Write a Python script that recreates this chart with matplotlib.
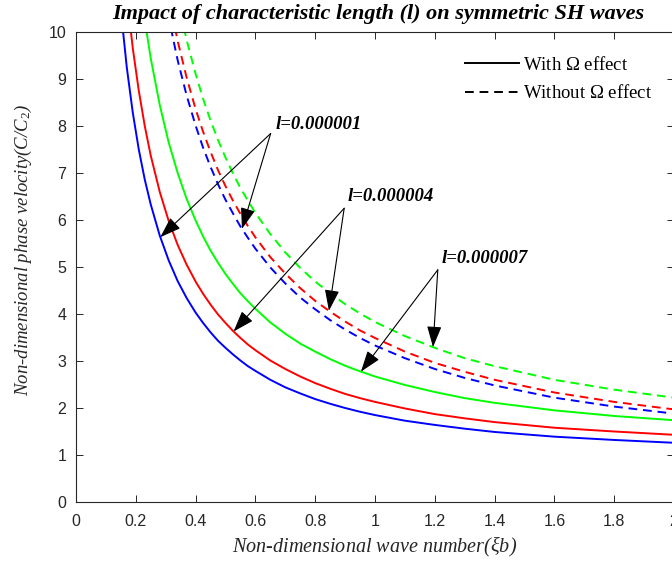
import matplotlib.pyplot as plt
import matplotlib as mpl
import numpy as np
from matplotlib.lines import Line2D

mpl.rcParams.update({
    "font.family": "sans-serif",
    "font.sans-serif": ["Liberation Sans", "DejaVu Sans"],
    "mathtext.fontset": "custom",
    "mathtext.rm": "Liberation Serif",
    "mathtext.it": "Liberation Serif:italic",
    "axes.linewidth": 0.8,
    "axes.edgecolor": "#262626",
    "xtick.color": "#262626",
    "ytick.color": "#262626",
})

# wave number grid
xi = [0.15, 0.17, 0.19, 0.21, 0.23, 0.25, 0.28, 0.31, 0.34, 0.37, 0.40, 0.425,
      0.45, 0.475, 0.50, 0.525, 0.55, 0.575, 0.60, 0.65, 0.70, 0.75, 0.80, 0.85,
      0.90, 0.95, 1.00, 1.10, 1.20, 1.30, 1.40, 1.60, 1.80, 2.00]

# with rotation (Omega) effect
c_l1_with = [10.46, 9.24, 8.28, 7.50, 6.86, 6.33, 5.67, 5.14, 4.70, 4.34, 4.03, 3.81,
             3.61, 3.43, 3.28, 3.14, 3.01, 2.89, 2.79, 2.60, 2.44, 2.31, 2.19, 2.09,
             2.00, 1.92, 1.85, 1.73, 1.64, 1.56, 1.49, 1.39, 1.32, 1.26]
c_l4_with = [12.20, 10.77, 9.65, 8.75, 8.00, 7.37, 6.60, 5.98, 5.47, 5.05, 4.69, 4.43,
             4.20, 3.99, 3.81, 3.64, 3.49, 3.35, 3.23, 3.01, 2.83, 2.67, 2.53, 2.41,
             2.30, 2.21, 2.13, 1.99, 1.87, 1.78, 1.70, 1.58, 1.50, 1.43]
c_l7_with = [15.65, 13.82, 12.38, 11.21, 10.25, 9.44, 8.45, 7.65, 7.00, 6.45, 5.99, 5.65,
             5.35, 5.09, 4.85, 4.64, 4.44, 4.27, 4.11, 3.82, 3.58, 3.37, 3.20, 3.04,
             2.90, 2.78, 2.67, 2.49, 2.34, 2.21, 2.11, 1.95, 1.83, 1.74]

# without rotation effect
c_l1_without = [21.20, 18.72, 16.76, 15.17, 13.85, 12.75, 11.39, 10.30, 9.40, 8.65, 8.01, 7.54,
                7.13, 6.76, 6.43, 6.14, 5.86, 5.62, 5.39, 4.99, 4.65, 4.35, 4.10, 3.87,
                3.67, 3.49, 3.33, 3.06, 2.83, 2.64, 2.48, 2.22, 2.03, 1.88]
c_l4_without = [22.14, 19.54, 17.49, 15.83, 14.46, 13.31, 11.89, 10.75, 9.81, 9.03, 8.36, 7.88,
                7.45, 7.06, 6.72, 6.41, 6.13, 5.87, 5.63, 5.21, 4.86, 4.55, 4.28, 4.05,
                3.84, 3.65, 3.49, 3.20, 2.96, 2.77, 2.60, 2.33, 2.13, 1.97]
c_l7_without = [24.07, 21.25, 19.02, 17.22, 15.73, 14.48, 12.94, 11.70, 10.69, 9.83, 9.11, 8.58,
                8.12, 7.70, 7.33, 6.99, 6.68, 6.41, 6.15, 5.70, 5.31, 4.98, 4.69, 4.44,
                4.21, 4.01, 3.83, 3.53, 3.28, 3.06, 2.89, 2.60, 2.39, 2.22]

fig = plt.figure(figsize=(6.72, 5.62), dpi=100)
ax = fig.add_axes([76 / 672, 1 - 502 / 562, 598 / 672, 470 / 562])

lw = 1.4
dash = (0, (4.5, 3))
ax.plot(xi, c_l1_with, color="blue", lw=lw)
ax.plot(xi, c_l4_with, color="red", lw=lw)
ax.plot(xi, c_l7_with, color=(0, 1, 0), lw=lw)
ax.plot(xi, c_l1_without, color="blue", lw=lw, ls=dash)
ax.plot(xi, c_l4_without, color="red", lw=lw, ls=dash)
ax.plot(xi, c_l7_without, color=(0, 1, 0), lw=lw, ls=dash)

ax.set_xlim(0, 2)
ax.set_ylim(0, 10)
ax.set_xticks(np.arange(0, 2.01, 0.2))
ax.set_xticklabels(["0", "0.2", "0.4", "0.6", "0.8", "1", "1.2", "1.4", "1.6", "1.8", "2"])
ax.set_yticks(range(0, 11))
ax.tick_params(direction="in", top=True, right=True, length=5, width=0.7,
               labelsize=11.5)
ax.tick_params(axis="x", pad=9)
ax.tick_params(axis="y", pad=7)

serif = "Liberation Serif"
fig.text(378 / 672, 1 - 14 / 562, "Impact of characteristic length (l) on symmetric SH waves",
         family=serif, style="italic", weight="bold", fontsize=16,
         ha="center", va="center")
ax.set_xlabel(r"Non-dimensional wave number($\xi$b)", family=serif, style="italic",
              fontsize=14.5, color="#262626", labelpad=4)
ax.set_ylabel(r"Non-dimensional phase velocity(C/C$_2$)", family=serif, style="italic",
              fontsize=13.5, color="#262626")
ax.yaxis.set_label_coords(-0.07, 0.536)

handles = [Line2D([], [], color="black", lw=1.4),
           Line2D([], [], color="black", lw=1.4, ls=dash)]
ax.legend(handles, [r"With $\Omega$ effect", r"Without $\Omega$ effect"],
          loc="upper right", bbox_to_anchor=(0.992, 0.985), frameon=False,
          prop={"family": serif, "size": 13.5}, handlelength=2.9, handletextpad=0.2,
          labelspacing=0.55)

arrow = dict(arrowstyle="-|>,head_length=1.3,head_width=0.45", color="black",
             lw=0.8, shrinkA=0, shrinkB=0)
label_font = dict(family=serif, style="italic", weight="bold", fontsize=13.5)

# l = 0.000001
ax.text(0.668, 8.04, "l=0.000001", va="center", ha="left", **label_font)
for x, ys in [(0.282, c_l1_with), (0.555, c_l1_without)]:
    ax.annotate("", xy=(x, np.interp(x, xi, ys)), xytext=(0.651, 7.84),
                arrowprops=arrow)

# l = 0.000004
ax.text(0.91, 6.49, "l=0.000004", va="center", ha="left", **label_font)
for x, ys in [(0.527, c_l4_with), (0.846, c_l4_without)]:
    ax.annotate("", xy=(x, np.interp(x, xi, ys)), xytext=(0.897, 6.25),
                arrowprops=arrow)

# l = 0.000007
ax.text(1.222, 5.19, "l=0.000007", va="center", ha="left", **label_font)
for x, ys in [(0.953, c_l7_with), (1.194, c_l7_without)]:
    ax.annotate("", xy=(x, np.interp(x, xi, ys)), xytext=(1.21, 4.94),
                arrowprops=arrow)

fig.savefig("out.png", dpi=100, facecolor="white")
